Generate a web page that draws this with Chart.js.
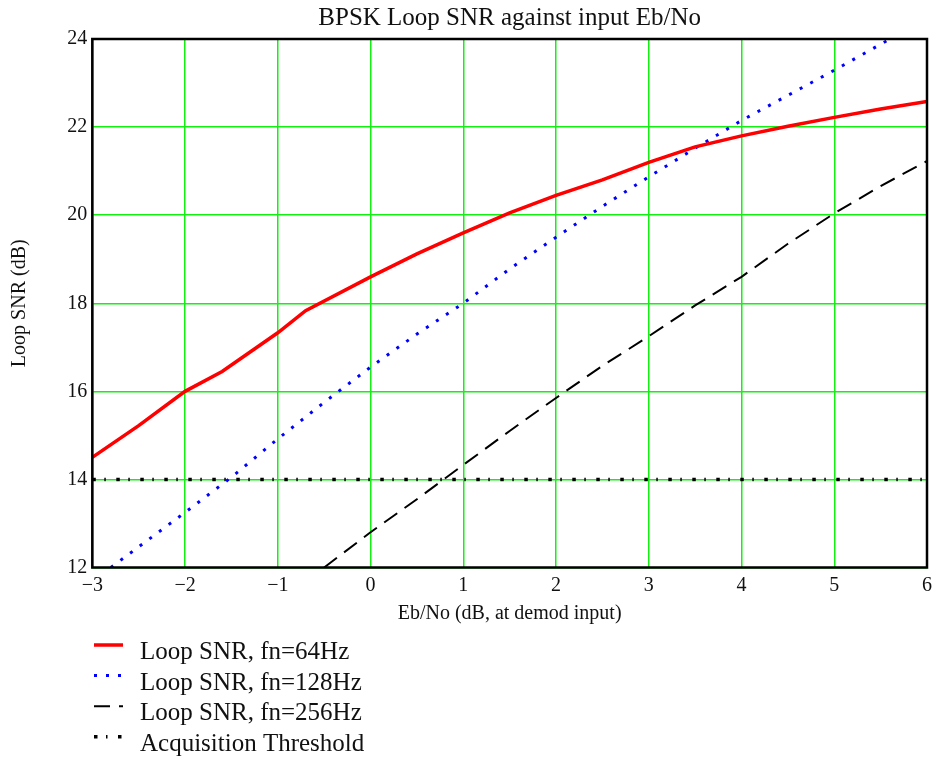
<!DOCTYPE html>
<html>
<head>
<meta charset="utf-8">
<script src="https://cdn.jsdelivr.net/npm/chart.js@4"></script>
<style>
  body { margin: 0; background: #fff; }
  canvas { display: block; }
</style>
</head>
<body>
<canvas id="loop-snr" width="939" height="760"></canvas>
<script>
// Eb/No (dB) and loop SNR (dB) for each loop bandwidth
const ebno64 = [-3, -2.5, -2, -1.6, -1, -0.7, 0, 0.5, 1, 1.5, 2, 2.5, 3, 3.5, 4, 4.5, 5, 5.5, 6];
const snr64 = [14.5, 15.22, 16.0, 16.45, 17.33, 17.83, 18.6, 19.12, 19.6, 20.05, 20.45, 20.8, 21.2, 21.55, 21.8, 22.02, 22.22, 22.41, 22.58];

const ebno128 = [-2.8, -2, -1.5, -1, -0.5, 0, 0.5, 1, 1.5, 2, 2.5, 3, 3.5, 4, 4.5, 5, 5.6];
const snr128 = [12.0, 13.25, 14.05, 14.92, 15.75, 16.55, 17.3, 18.0, 18.78, 19.5, 20.2, 20.87, 21.52, 22.15, 22.72, 23.29, 24.0];

const ebno256 = [-0.5, 0, 0.5, 1, 1.5, 2, 2.5, 3, 3.5, 4, 4.5, 5, 5.5, 6];
const snr256 = [12.0, 12.8, 13.55, 14.33, 15.1, 15.85, 16.58, 17.25, 17.95, 18.6, 19.35, 20.04, 20.66, 21.23];

const ebnoThreshold = [-3, 6];
const snrThreshold = [14, 14];

const seriesLabels = [
  "Loop SNR, fn=64Hz",
  "Loop SNR, fn=128Hz",
  "Loop SNR, fn=256Hz",
  "Acquisition Threshold",
];

const serif = "'Liberation Serif', 'Times New Roman', serif";

function points(xs, ys) {
  return xs.map((x, i) => ({ x: x, y: ys[i] }));
}

function minusSign(value) {
  return value < 0 ? "\u2212" + Math.abs(value) : String(value);
}

// black frame round the plot area, drawn over the curves
const plotFrame = {
  id: "plotFrame",
  afterDatasetsDraw(chart) {
    const { ctx, chartArea: a } = chart;
    ctx.save();
    ctx.strokeStyle = "#000";
    ctx.lineWidth = 2.5;
    ctx.strokeRect(a.left, a.top, a.right - a.left, a.bottom - a.top);
    ctx.restore();
  },
};

// stacked legend under the x axis title, one sample line per row
const stackedLegend = {
  id: "stackedLegend",
  afterDraw(chart) {
    const ctx = chart.ctx;
    ctx.save();
    ctx.font = "25px " + serif;
    ctx.textBaseline = "alphabetic";
    chart.data.datasets.forEach((ds, i) => {
      const base = 659 + i * 30.6;
      const lineY = base - 14;
      ctx.strokeStyle = ds.borderColor;
      ctx.lineWidth = ds.borderWidth;
      ctx.setLineDash(ds.borderDash || []);
      ctx.lineCap = "butt";
      ctx.beginPath();
      ctx.moveTo(94, lineY);
      ctx.lineTo(123, lineY);
      ctx.stroke();
      ctx.setLineDash([]);
      ctx.fillStyle = "#111";
      ctx.fillText(ds.label, 140, base);
    });
    ctx.restore();
  },
};

new Chart(document.getElementById("loop-snr"), {
  type: "line",
  data: {
    datasets: [
      {
        label: seriesLabels[0],
        data: points(ebno64, snr64),
        borderColor: "#ff0000",
        borderWidth: 3.5,
      },
      {
        label: seriesLabels[1],
        data: points(ebno128, snr128),
        borderColor: "#0000ff",
        borderWidth: 3,
        borderDash: [3, 9],
      },
      {
        label: seriesLabels[2],
        data: points(ebno256, snr256),
        borderColor: "#000",
        borderWidth: 2,
        borderDash: [16, 9],
      },
      {
        label: seriesLabels[3],
        data: points(ebnoThreshold, snrThreshold),
        borderColor: "#000",
        borderWidth: 3.5,
        borderDash: [3.5, 8.5, 1.5, 10.5],
      },
    ],
  },
  options: {
    responsive: false,
    animation: false,
    devicePixelRatio: 1,
    layout: {
      padding: { top: 0, right: 12, bottom: 130, left: 0 },
    },
    elements: {
      point: { radius: 0 },
      line: { tension: 0, borderCapStyle: "butt" },
    },
    plugins: {
      legend: { display: false },
      tooltip: { enabled: false },
      title: {
        display: true,
        fullSize: false,
        text: "BPSK Loop SNR against input Eb/No",
        color: "#111",
        font: { family: serif, size: 25, weight: "normal" },
        padding: { top: 3.4, bottom: 5.6 },
      },
    },
    scales: {
      x: {
        type: "linear",
        min: -3,
        max: 6,
        afterFit: (scale) => { scale.height = 62.5; },
        border: { display: false },
        grid: { color: "#11f011", lineWidth: 1.5, drawTicks: false },
        ticks: {
          stepSize: 1,
          padding: 6,
          color: "#111",
          font: { family: serif, size: 20 },
          callback: minusSign,
        },
        title: {
          display: true,
          text: "Eb/No (dB, at demod input)",
          color: "#111",
          font: { family: serif, size: 20 },
          padding: { top: 0, bottom: 4 },
        },
      },
      y: {
        min: 12,
        max: 24,
        afterFit: (scale) => { scale.width = 92.3; },
        border: { display: false },
        grid: { color: "#11f011", lineWidth: 1.5, drawTicks: false },
        ticks: {
          stepSize: 2,
          padding: 5,
          color: "#111",
          font: { family: serif, size: 20 },
        },
        title: {
          display: true,
          text: "Loop SNR (dB)",
          color: "#111",
          font: { family: serif, size: 20 },
          padding: { top: 8, bottom: 0 },
        },
      },
    },
  },
  plugins: [plotFrame, stackedLegend],
});
</script>
</body>
</html>
